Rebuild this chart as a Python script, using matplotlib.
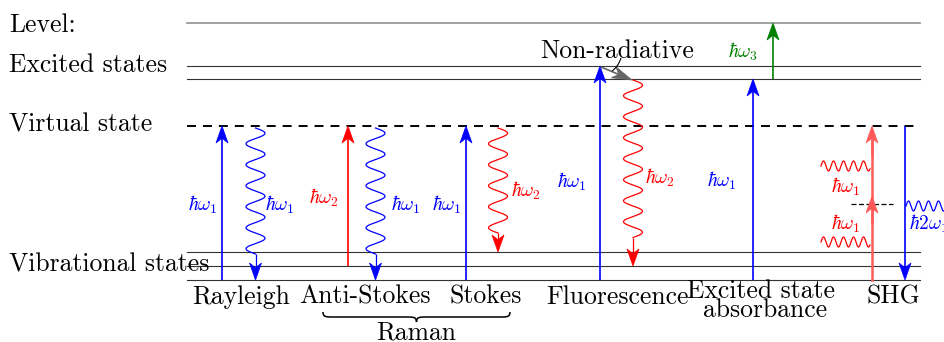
import numpy as np
import matplotlib.pyplot as plt
from matplotlib.patches import Polygon, PathPatch
from matplotlib.path import Path

plt.rcParams['mathtext.fontset'] = 'cm'
TEXT_FONT = 'cmr10'

# energy levels, in pixel rows (y grows downward)
top_y = 23
excited_y = [66, 79]
virtual_y = 126
vibrational_y = [252, 266, 280]
line_x = [187, 920]

level_names = ["Level:", "Excited states", "Virtual state", "Vibrational states"]
level_label_y = [32, 72, 132, 272]

process_names = ["Rayleigh", "Anti-Stokes", "Stokes", "Fluorescence",
                 "Excited state", "absorbance", "SHG"]
process_x = [241, 365, 486, 618, 761, 765, 893]
process_y = [304, 304, 304, 304, 298, 317, 304]

# straight transitions
straight_x = [222, 348, 466, 600, 753, 773, 905]
straight_from = [280, 266, 280, 280, 280, 79, 126]
straight_to = [126, 126, 126, 66, 79, 23, 280]
straight_color = ['blue', 'red', 'blue', 'blue', 'blue', 'green', 'blue']

# emitted photons (vertical wavy arrows)
wavy_x = [255.5, 375.5, 498, 633]
wavy_from = [128, 128, 128, 80]
wavy_end = [257, 257, 233, 242]
wavy_to = [280, 280, 252, 266]
wavy_color = ['blue', 'blue', 'red', 'red']

# SHG: two red photons up to the virtual state, one blue photon out
shg_x = 872
shg_mid_y = 204
shg_in_y = [166, 242]
shg_in_x = [821, 870]
shg_out_y = 206
shg_out_x = [906, 946]

photon_text = [r'$\hbar\omega_1$', r'$\hbar\omega_1$', r'$\hbar\omega_2$', r'$\hbar\omega_1$',
               r'$\hbar\omega_1$', r'$\hbar\omega_2$', r'$\hbar\omega_1$', r'$\hbar\omega_2$',
               r'$\hbar\omega_1$', r'$\hbar\omega_3$', r'$\hbar\omega_1$', r'$\hbar\omega_1$',
               r'$\hbar2\omega_1$']
photon_x = [203, 280, 324, 406, 447, 526, 572, 660, 722, 743, 846, 846, 929]
photon_y = [205, 205, 198, 205, 205, 191, 182, 178, 181, 52, 187, 224, 224]
photon_color = ['blue', 'blue', 'red', 'blue', 'blue', 'red', 'blue', 'red',
                'blue', 'green', 'red', 'red', 'blue']


def arrow(ax, x0, y0, x1, y1, color, lw=1.2, hl=17, hw=6, zorder=3):
    """Line with a stealth-like head at (x1, y1)."""
    d = np.array([x1 - x0, y1 - y0], float)
    d /= np.hypot(*d)
    n = np.array([-d[1], d[0]])
    tip = np.array([x1, y1], float)
    back = tip - hl * d
    notch = tip - 0.72 * hl * d
    ax.plot([x0, notch[0]], [y0, notch[1]], color=color, lw=lw,
            solid_capstyle='butt', zorder=zorder)
    head = Polygon([tip, back + hw * n, notch, back - hw * n], closed=True,
                   facecolor=color, edgecolor=color, lw=0.5, zorder=zorder)
    ax.add_patch(head)


def wavy_down(ax, x, y0, y_end, y_tip, color, amp=9.5, wl=21):
    half = max(1, round(2 * (y_end - y0) / wl))
    y = np.linspace(y0, y0 + half * wl / 2, 400)
    xs = x + amp * np.sin(2 * np.pi * (y - y0) / wl)
    ax.plot(xs, y, color=color, lw=0.9, zorder=3)
    arrow(ax, x, y[-1], x, y_tip, color, lw=0.9)


def wavy_across(ax, x0, x1, y, color, amp=5, wl=10):
    x = np.linspace(x0, x1, 400)
    ys = y - amp * np.sin(2 * np.pi * (x - x0) / wl)
    ax.plot(x, ys, color=color, lw=0.9, zorder=3)


def brace(ax, x0, x1, y_top, depth, color='black'):
    xm = (x0 + x1) / 2
    ym = y_top + depth * 0.5
    yt = y_top + depth
    r = 10
    verts = [(x0, y_top), (x0, ym), (x0 + r * 0.3, ym), (x0 + r, ym),
             (xm - r, ym),
             (xm - r * 0.3, ym), (xm, ym), (xm, yt),
             (xm, ym), (xm + r * 0.3, ym), (xm + r, ym),
             (x1 - r, ym),
             (x1 - r * 0.3, ym), (x1, ym), (x1, y_top)]
    codes = [Path.MOVETO, Path.CURVE4, Path.CURVE4, Path.CURVE4,
             Path.LINETO,
             Path.CURVE4, Path.CURVE4, Path.CURVE4,
             Path.CURVE4, Path.CURVE4, Path.CURVE4,
             Path.LINETO,
             Path.CURVE4, Path.CURVE4, Path.CURVE4]
    ax.add_patch(PathPatch(Path(verts, codes), facecolor='none',
                           edgecolor=color, lw=1.1, zorder=3))


fig = plt.figure(figsize=(9.44, 3.42), dpi=100)
ax = fig.add_axes([0, 0, 1, 1])
ax.set_xlim(0, 944)
ax.set_ylim(342, 0)
ax.axis('off')

# level lines
ax.plot(line_x, [top_y, top_y], color='#9a9a9a', lw=1.3, zorder=1)
for y in excited_y + vibrational_y:
    ax.plot(line_x, [y, y], color='#333333', lw=0.8, zorder=1)
ax.plot(line_x, [virtual_y, virtual_y], color='black', lw=1.4,
        linestyle=(0, (4.6, 3.6)), zorder=1)

for name, y in zip(level_names, level_label_y):
    ax.text(9, y, name, fontsize=18.5, family=TEXT_FONT, va='baseline', ha='left')

for name, x, y in zip(process_names, process_x, process_y):
    ax.text(x, y, name, fontsize=18.5, family=TEXT_FONT, va='baseline', ha='center')

# transitions
for x, y0, y1, c in zip(straight_x, straight_from, straight_to, straight_color):
    arrow(ax, x, y0, x, y1, c)

for x, y0, ye, y1, c in zip(wavy_x, wavy_from, wavy_end, wavy_to, wavy_color):
    wavy_down(ax, x, y0, ye, y1, c)

# non-radiative relaxation
arrow(ax, 601, 67, 632, 80, '#666666', lw=1.2, hl=20, hw=6)
ax.text(617, 58, "Non-radiative", fontsize=18.5, family=TEXT_FONT,
        va='baseline', ha='center')
ax.add_patch(PathPatch(Path([(621, 58), (618, 67), (612, 71)],
                            [Path.MOVETO, Path.CURVE3, Path.CURVE3]),
                       facecolor='none', edgecolor='black', lw=0.8, zorder=4))

# second harmonic generation
shg_red = '#ff5a5a'
ax.plot([shg_x, shg_x], [vibrational_y[-1], virtual_y + 10], color=shg_red,
        lw=1.8, zorder=3)
arrow(ax, shg_x, shg_mid_y + 20, shg_x, shg_mid_y - 8, shg_red, lw=1.8)
arrow(ax, shg_x, virtual_y + 30, shg_x, virtual_y, shg_red, lw=1.8)
ax.plot([851, 893], [shg_mid_y, shg_mid_y], color='black', lw=0.9,
        linestyle=(0, (4, 2)), zorder=2)
for y in shg_in_y:
    wavy_across(ax, shg_in_x[0], shg_in_x[1], y, 'red')
wavy_across(ax, shg_out_x[0], shg_out_x[1], shg_out_y, 'blue')

for t, x, y, c in zip(photon_text, photon_x, photon_y, photon_color):
    ax.text(x, y, t, fontsize=14, color=c, ha='center', va='center')

# Raman brace
brace(ax, 323, 510, 312, 10)
ax.text(416, 339, "Raman", fontsize=18.5, family=TEXT_FONT, va='baseline', ha='center')

fig.savefig('out.png', dpi=100)
